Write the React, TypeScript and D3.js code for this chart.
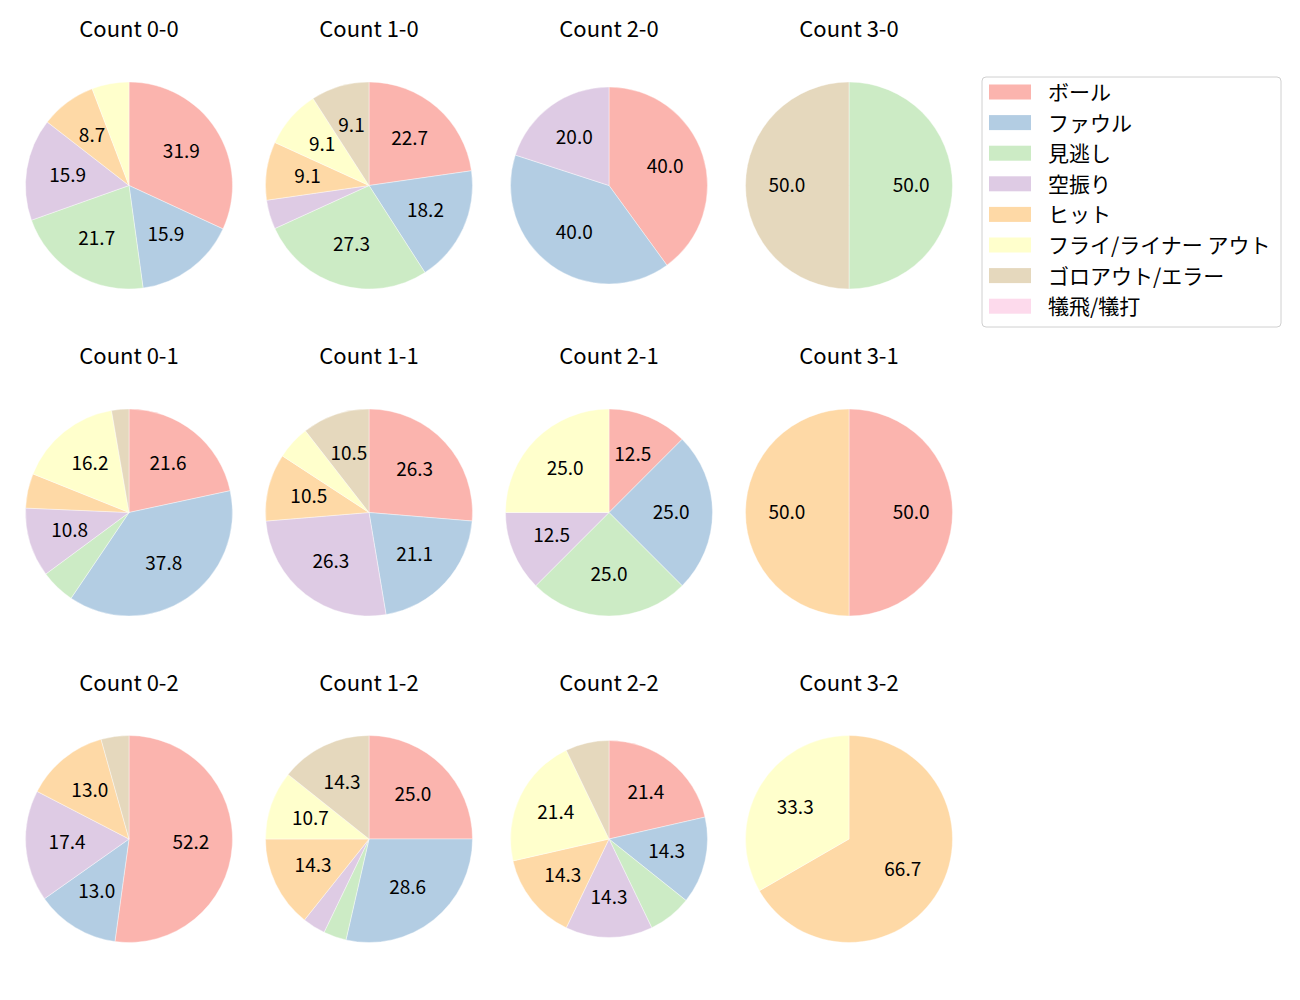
import * as d3 from 'd3';

const width = 1300;
const height = 1000;

// pitch result categories (legend order)
const categories = ['ボール', 'ファウル', '見逃し', '空振り', 'ヒット', 'フライ/ライナー アウト', 'ゴロアウト/エラー', '犠飛/犠打'];
const colors = ['#fbb4ae', '#b3cde3', '#ccebc5', '#decbe4', '#fed9a6', '#ffffcc', '#e5d8bd', '#fddaec'];

// ball-strike counts, row by row
const counts = ['0-0', '1-0', '2-0', '3-0', '0-1', '1-1', '2-1', '3-1', '0-2', '1-2', '2-2', '3-2'];

// number of pitches per category, one value per count above
const ball = [22, 5, 2, 0, 8, 5, 1, 1, 12, 7, 3, 0];
const foul = [11, 4, 2, 0, 14, 4, 2, 0, 3, 8, 2, 0];
const called = [15, 6, 0, 1, 2, 0, 2, 0, 0, 1, 1, 0];
const swinging = [11, 1, 1, 0, 4, 5, 1, 0, 4, 1, 2, 0];
const hit = [6, 2, 0, 0, 2, 2, 0, 1, 3, 4, 2, 2];
const flyOut = [4, 2, 0, 0, 6, 1, 2, 0, 0, 3, 3, 1];
const groundOut = [0, 2, 0, 1, 1, 2, 0, 0, 1, 4, 1, 0];
const sacrifice = [0, 0, 0, 0, 0, 0, 0, 0, 0, 0, 0, 0];

const series = [ball, foul, called, swinging, hit, flyOut, groundOut, sacrifice];

const font = '"Noto Sans CJK JP", "Noto Sans", sans-serif';

const colX = [129, 369, 609, 849];
const rowY = [185.5, 512.5, 839];
const titleY = [28, 355, 682];
const baseR = 103.5;
// two pies come out a bit smaller in the original
const smallPies = ['2-0', '2-2'];

const pieGen = d3.pie<number>().sort(null).value(d => d).startAngle(0).endAngle(2 * Math.PI);

const Pie = ({ idx }: { idx: number }) => {
  const values = series.map(s => s[idx]);
  const total = d3.sum(values);
  const cx = colX[idx % 4];
  const cy = rowY[Math.floor(idx / 4)];
  const r = smallPies.includes(counts[idx]) ? 98.5 : baseR;
  const arcGen = d3.arc<d3.PieArcDatum<number>>().innerRadius(0).outerRadius(r);
  const labelArc = d3.arc<d3.PieArcDatum<number>>().innerRadius(r * 0.6).outerRadius(r * 0.6);
  const arcs = pieGen(values);
  return (
    <g>
      <text x={cx} y={titleY[Math.floor(idx / 4)] - 1} textAnchor="middle" dominantBaseline="central"
        fontSize={22} fontFamily={font} fill="#000">{`Count ${counts[idx]}`}</text>
      <g transform={`translate(${cx},${cy})`}>
        {arcs.map((a, i) => a.value > 0 && (
          <path key={i} d={arcGen(a) || ''} fill={colors[i]} stroke="#fff" strokeWidth={0.4} />
        ))}
        {arcs.map((a, i) => {
          const pct = (a.value / total) * 100;
          if (pct < 8) return null;
          const [lx, ly] = labelArc.centroid(a);
          return (
            <text key={'t' + i} x={lx} y={ly - 2.5} textAnchor="middle" dominantBaseline="central"
              fontSize={19} fontFamily={font} fill="#000">{pct.toFixed(1)}</text>
          );
        })}
      </g>
    </g>
  );
};

const Legend = () => {
  const x0 = 982, y0 = 77, w = 299, h = 250;
  const rowStep = 30.6;
  return (
    <g>
      <rect x={x0} y={y0} width={w} height={h} rx={4} fill="#fff" fillOpacity={0.8} stroke="#d0d0d0" strokeWidth={1} />
      {categories.map((c, i) => {
        const yc = 92 + i * rowStep;
        return (
          <g key={c}>
            <rect x={989} y={yc - 7.5} width={42} height={15} fill={colors[i]} />
            <text x={1048} y={yc - 1} dominantBaseline="central" fontSize={21} fontFamily={font} fill="#000">{c}</text>
          </g>
        );
      })}
    </g>
  );
};

const App = () => {
  return (
    <svg width={width} height={height} style={{ position: 'absolute', left: 0, top: 0, background: '#fff' }}>
      <rect width={width} height={height} fill="#fff" />
      {counts.map((c, i) => <Pie key={c} idx={i} />)}
      <Legend />
    </svg>
  );
};

export default App;
